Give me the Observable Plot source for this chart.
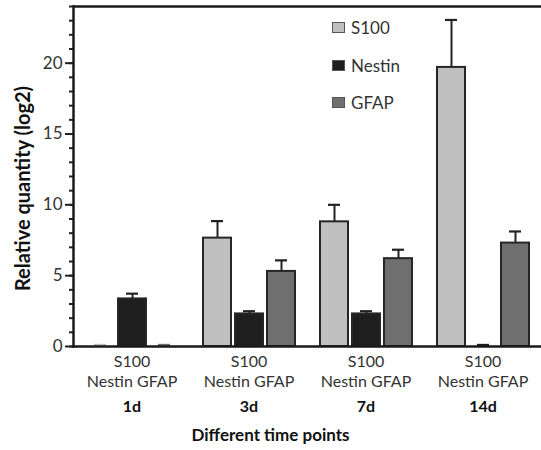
<!DOCTYPE html>
<html><head><meta charset="utf-8">
<script src="https://cdn.jsdelivr.net/npm/d3@7"></script>
<script src="https://cdn.jsdelivr.net/npm/@observablehq/plot@0.6"></script>
<style>
body{margin:0;background:#fff;font-family:Lato,sans-serif}
#wrap{position:relative;width:541px;height:450px;overflow:hidden}
#wrap svg{position:absolute;left:0;top:0}
.legend-row{position:absolute;left:332px;height:20px;display:flex;align-items:center;font-size:17px;color:#333}
.legend-row span.sw{display:inline-block;width:11px;height:9px;border:1px solid #555;margin-right:6px}
#xtitle{position:absolute;left:0;top:424px;width:541px;text-align:center;font-size:17px;font-weight:bold;color:#111}
</style></head><body><div id="wrap"></div>
<script>
const times = ["1d", "3d", "7d", "14d"];
const genes = ["S100", "Nestin", "GFAP"];
const s100 = [0, 7.65, 8.8, 19.7];
const s100Err = [0.1, 1.2, 1.2, 3.35];
const nestin = [3.36, 2.3, 2.3, 0];
const nestinErr = [0.37, 0.19, 0.19, 0.1];
const gfap = [0, 5.3, 6.2, 7.3];
const gfapErr = [0.1, 0.78, 0.63, 0.82];
const geneColors = ["#c0c0c0", "#1e1e1e", "#6f6f6f"];
const yTicks = [0, 5, 10, 15, 20];
const yMinorTicks = d3.range(0, 25, 1);
const tickLabel = "S100\nNestin GFAP";
const xAxisTitle = "Different time points";
const yAxisTitle = "Relative quantity (log2)";

const vals = [s100, nestin, gfap];
const errs = [s100Err, nestinErr, gfapErr];
const bars = times.flatMap((t, i) => genes.map((g, j) => ({time: t, gene: g, value: vals[j][i], err: errs[j][i]})));

const chart = Plot.plot({
  width: 541, height: 450,
  marginLeft: 72, marginRight: 0, marginTop: 6, marginBottom: 104,
  style: {fontFamily: "Lato, sans-serif", fontSize: "16px", color: "#222", background: "white"},
  fx: {domain: times, padding: 0, axis: null},
  x: {domain: genes, paddingInner: 0.136, paddingOuter: 0.35, axis: null},
  y: {domain: [0, 24], axis: null, label: null},
  color: {domain: genes, range: geneColors},
  marks: [
    Plot.axisY({ticks: yMinorTicks, tickSize: 4, tickFormat: () => "", label: null, strokeWidth: 2}),
    Plot.axisY({ticks: yTicks, tickSize: 8, tickPadding: 3, label: null, strokeWidth: 2, fill: "#333", fontSize: 17}),
    Plot.ruleX(bars, {filter: d => d.value > 0, fx: "time", x: "gene", y1: "value", y2: d => d.value + d.err, stroke: "#222", strokeWidth: 2}),
    Plot.tickY(bars, {filter: d => d.value > 0, fx: "time", x: "gene", y: d => d.value + d.err, stroke: "#222", strokeWidth: 2.2, inset: 8}),
    Plot.tickY(bars, {filter: d => d.value === 0, fx: "time", x: "gene", y: d => d.value + d.err, stroke: "gene", strokeWidth: 2.5, inset: 8}),
    Plot.barY(bars, {filter: d => d.value > 0, fx: "time", x: "gene", y: "value", fill: "gene", stroke: "#262626", strokeWidth: 2}),
    Plot.ruleY([24], {strokeWidth: 2.5, stroke: "#1a1a1a"}),
    Plot.ruleY([0], {strokeWidth: 2.5, stroke: "#1a1a1a"}),
    Plot.frame({anchor: "left", facetAnchor: "left", strokeWidth: 2.5, stroke: "#1a1a1a"}),
    Plot.text(times, {fx: d => d, text: () => tickLabel, frameAnchor: "bottom", lineAnchor: "top", dy: 6, lineHeight: 1.25, fill: "#333"}),
    Plot.text(times, {fx: d => d, text: d => d, frameAnchor: "bottom", lineAnchor: "top", dy: 54, fontWeight: "bold", fill: "#111"}),
    Plot.text([yAxisTitle], {fx: () => times[0], text: d => d, frameAnchor: "left", textAnchor: "middle", rotate: -90, dx: -50, dy: 12, fontSize: 20, fontWeight: "bold", fill: "#111"})
  ]
});

const wrap = document.getElementById("wrap");
wrap.appendChild(chart);
const color = chart.scale("color");
const legendCenters = [27.5, 65, 102.5];
genes.forEach((g, i) => {
  const row = document.createElement("div");
  row.className = "legend-row";
  row.style.top = (legendCenters[i] - 10) + "px";
  const sw = document.createElement("span");
  sw.className = "sw";
  sw.style.background = color.apply(g);
  row.appendChild(sw);
  row.appendChild(document.createTextNode(g));
  wrap.appendChild(row);
});
const xt = document.createElement("div");
xt.id = "xtitle";
xt.textContent = xAxisTitle;
wrap.appendChild(xt);
</script></body></html>
